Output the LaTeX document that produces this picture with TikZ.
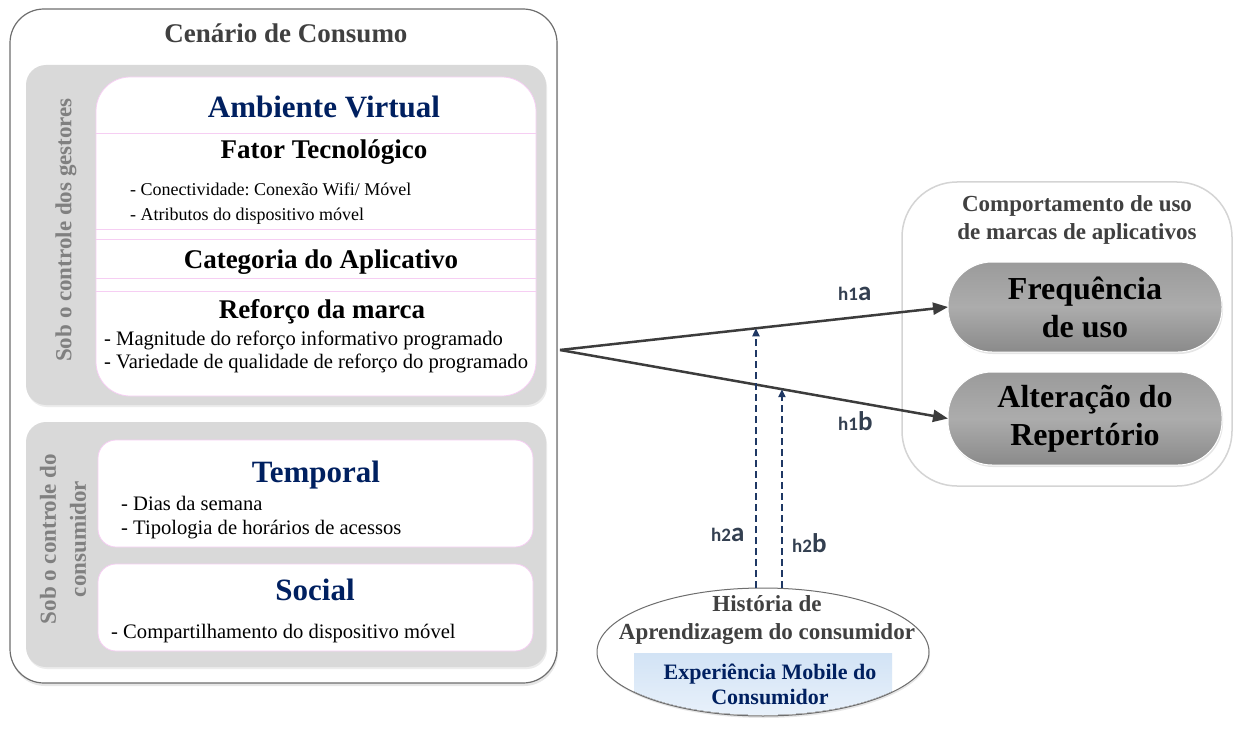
\documentclass[tikz,border=0pt]{standalone}
\usepackage{fontspec}
\setmainfont{Liberation Serif}
\newfontfamily\hypfont{Carlito}
\frenchspacing
\usetikzlibrary{arrows.meta, positioning, calc, shadows, shapes.geometric}
\definecolor{sceneLine}{RGB}{110,110,110}
\definecolor{titleGray}{RGB}{64,64,64}
\definecolor{panelGray}{RGB}{217,217,217}
\definecolor{sobGray}{RGB}{128,128,128}
\definecolor{pinkLine}{RGB}{246,206,243}
\definecolor{navyText}{RGB}{0,32,96}
\definecolor{labelSlate}{RGB}{51,63,80}
\definecolor{dashBlue}{RGB}{31,56,100}
\definecolor{arrowGray}{RGB}{60,60,60}
\definecolor{pillTop}{RGB}{155,155,155}
\definecolor{pillMid}{RGB}{172,172,172}
\definecolor{pillBot}{RGB}{138,138,138}
\definecolor{behavLine}{RGB}{212,212,212}
\definecolor{expTop}{RGB}{210,227,245}
\definecolor{expBot}{RGB}{234,242,251}

\begin{document}
\begin{tikzpicture}[
    x=1pt, y=-1pt,
    scene/.style={draw=sceneLine, line width=1.2pt, rounded corners=34pt, fill=white, inner sep=0pt, outer sep=0pt, drop shadow={opacity=0.2, shadow xshift=1pt, shadow yshift=-3pt}},
    panel/.style={fill=panelGray, rounded corners=20pt, inner sep=0pt, outer sep=0pt, drop shadow={opacity=0.15, shadow xshift=1pt, shadow yshift=-2pt}},
    card/.style={draw=pinkLine, line width=0.8pt, fill=white, rounded corners=18pt, inner sep=0pt, outer sep=0pt},
    sep/.style={draw=pinkLine, line width=0.9pt},
    head/.style={font=\fontsize{31}{36}\selectfont\bfseries, text=navyText, anchor=base, inner sep=0pt},
    subhead/.style={font=\fontsize{27}{32}\selectfont\bfseries, anchor=base, inner sep=0pt},
    item/.style={font=\fontsize{18}{22}\selectfont, anchor=base west, inner sep=0pt},
    bigitem/.style={item, font=\fontsize{20.6}{24}\selectfont},
    side/.style={font=\fontsize{23}{30}\selectfont\bfseries, text=sobGray, rotate=90, align=center, inner sep=0pt},
    pill/.style={top color=pillTop, bottom color=pillBot, middle color=pillMid, draw=white, line width=1pt, rounded corners=44pt, minimum width=274pt, align=center, font=\fontsize{32}{38}\selectfont\bfseries, inner sep=0pt, outer sep=0pt, drop shadow={opacity=0.2, shadow xshift=1pt, shadow yshift=-2pt}},
    gtitle/.style={font=\fontsize{23}{28}\selectfont\bfseries, text=titleGray, align=center, inner sep=0pt},
    arrow/.style={-{Triangle[length=15pt,width=12pt]}, line width=2.5pt, draw=arrowGray},
    hyp/.style={-{Triangle[length=8pt,width=7pt]}, line width=2pt, draw=dashBlue, dash pattern=on 7pt off 4pt},
    hlabel/.style={font=\hypfont\bfseries, text=labelSlate, anchor=base west, inner sep=0pt}
]
    \useasboundingbox (0,0) rectangle (1243,733);

    % cenario de consumo
    \node[scene, minimum width=547pt, minimum height=674pt] (scene) at (283.5,346) {};
    \node[font=\fontsize{27}{32}\selectfont\bfseries, text=titleGray, anchor=base, inner sep=0pt] (sceneTitle) at (286,43) {Cenário de Consumo};

    \node[panel, minimum width=520pt, minimum height=340pt] (gestores) at (286,235) {};
    \node[card, rounded corners=34pt, minimum width=440pt, minimum height=319pt] (virtual) at (316,236.5) {};
    \node[side] (gestLabel) at (66,230) {Sob o controle dos gestores};

    \draw[sep] (virtual.west |- 0,133) -- (virtual.east |- 0,133);
    \draw[sep] (virtual.west |- 0,229) -- (virtual.east |- 0,229);
    \draw[sep] (virtual.west |- 0,239) -- (virtual.east |- 0,239);
    \draw[sep] (virtual.west |- 0,278) -- (virtual.east |- 0,278);
    \draw[sep] (virtual.west |- 0,291) -- (virtual.east |- 0,291);

    \node[head] (ambiente) at (324,118) {Ambiente Virtual};
    \node[subhead] (fator) at (324,159) {Fator Tecnológico};
    \node[item] (conect) at (130,196) {- Conectividade: Conexão Wifi/ Móvel};
    \node[item] (atrib) at (130,220) {- Atributos do dispositivo móvel};
    \node[subhead] (categoria) at (321,268) {Categoria do Aplicativo};
    \node[subhead] (reforco) at (322,318) {Reforço da marca};
    \node[bigitem] (magnitude) at (104,345) {- Magnitude do reforço informativo programado};
    \node[bigitem] (variedade) at (104,368) {- Variedade de qualidade de reforço do programado};

    \node[panel, minimum width=520pt, minimum height=245pt] (consumidor) at (286,544.5) {};
    \node[side] (consLabel) at (63,539) {Sob o controle do\\consumidor};
    \node[card, minimum width=435pt, minimum height=107pt] (tempBox) at (315.5,493.5) {};
    \node[card, minimum width=435pt, minimum height=87pt] (socBox) at (315.5,607.5) {};

    \node[head] (temporal) at (316,482) {Temporal};
    \node[bigitem] (dias) at (121,510) {- Dias da semana};
    \node[bigitem] (tipologia) at (121,534) {- Tipologia de horários de acessos};
    \node[head] (social) at (315,600) {Social};
    \node[bigitem] (compart) at (111,638) {- Compartilhamento do dispositivo móvel};

    % comportamento de uso
    \node[draw=behavLine, line width=1.5pt, fill=white, rounded corners=55pt, minimum width=330pt, minimum height=304pt, inner sep=0pt] (behaviour) at (1067,334) {};
    \node[gtitle] (behavTitle) at (1077,220) {Comportamento de uso\\de marcas de aplicativos};
    \node[pill, minimum height=90pt] (freq) at (1085,307) {Frequência\\de uso};
    \node[pill, minimum height=93pt] (alter) at (1085,418.5) {Alteração do\\Repertório};

    % historia de aprendizagem
    \node[ellipse, draw=sceneLine, line width=1pt, fill=white, minimum width=332pt, minimum height=128pt, inner sep=0pt, outer sep=0pt, drop shadow={opacity=0.2, shadow xshift=1pt, shadow yshift=-2pt}] (hist) at (763,652) {};
    \begin{scope}
        \clip (hist.center) ellipse [x radius=165pt, y radius=63pt];
        \fill[top color=expTop, bottom color=expBot] (634,653) rectangle (892,720);
    \end{scope}
    \node[gtitle] (histTitle) at (767,620) {História de\\Aprendizagem do consumidor};
    \node[gtitle, font=\fontsize{22}{25}\selectfont\bfseries, text=navyText] (exper) at (770,684) {Experiência Mobile do\\Consumidor};

    % hipoteses
    \coordinate (src) at (560,350);
    \draw[arrow] (src) -- (freq.west);
    \draw[arrow] (src) -- (alter.west);
    \coordinate (ta) at ($(src)!0.505!(freq.west)$);
    \coordinate (tb) at ($(src)!0.572!(alter.west)$);
    \draw[hyp] (ta |- hist.north) -- (ta);
    \draw[hyp] (tb |- hist.north) -- (tb);

    \node[hlabel] (h1a) at (838,300) {{\fontsize{19}{22}\selectfont h1}{\fontsize{27}{30}\selectfont a}};
    \node[hlabel] (h1b) at (838,430) {{\fontsize{19}{22}\selectfont h1}{\fontsize{27}{30}\selectfont b}};
    \node[hlabel] (h2a) at (711,541) {{\fontsize{19}{22}\selectfont h2}{\fontsize{27}{30}\selectfont a}};
    \node[hlabel] (h2b) at (792,552) {{\fontsize{19}{22}\selectfont h2}{\fontsize{27}{30}\selectfont b}};
\end{tikzpicture}
\end{document}
